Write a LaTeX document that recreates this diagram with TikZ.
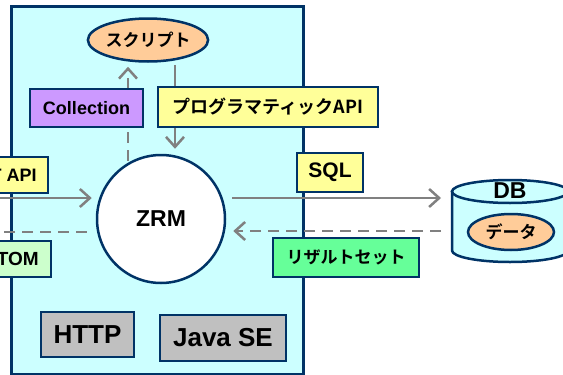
\documentclass[tikz,border=0pt]{standalone}
\usepackage{fontspec}
\setmainfont{Liberation Sans}
\newfontfamily\cjk{Noto Sans CJK JP Bold}
\newcommand\jp[1]{{\cjk\mdseries #1}}
\usetikzlibrary{arrows.meta,calc,shapes.geometric}
\definecolor{navy}{HTML}{003366}
\definecolor{cyanbg}{HTML}{CCFFFF}
\definecolor{peach}{HTML}{FFCC99}
\definecolor{lav}{HTML}{CC99FF}
\definecolor{yel}{HTML}{FFFF99}
\definecolor{ltgrn}{HTML}{CCFFCC}
\definecolor{grn}{HTML}{66FF99}
\definecolor{boxgray}{HTML}{C0C0C0}
\definecolor{arrgray}{HTML}{808080}
\tikzset{
  fs/.style={font=\bfseries\fontsize{#1}{#1}\selectfont},
  bx/.style={draw=navy, line width=2.5pt, inner xsep=8pt, inner ysep=0pt, fs=18},
  ell/.style={ellipse, draw=navy, line width=2.5pt, fill=peach, inner sep=0pt, fs=17},
  arr/.style={draw=arrgray, line width=2.5pt, -{Straight Barb[length=10pt,width=18pt]}},
  dsh/.style={arr, dash pattern=on 11pt off 7pt},
}
\begin{document}
\begin{tikzpicture}[x=1pt,y=-1pt]
\useasboundingbox (0,0) rectangle (563,375);
\clip (0,0) rectangle (563,375);
% system box
\node[draw=navy, fill=cyanbg, line width=2.5pt, minimum width=292pt, minimum height=368pt, inner sep=0pt, anchor=north west] (sys) at (10,5) {};
% DB cylinder
\draw[navy, line width=2.5pt, fill=cyanbg] (452,191.5) -- (452,250.5) arc[start angle=180, end angle=0, x radius=58, y radius=11.5] -- (568,191.5) -- cycle;
\draw[navy, line width=2.5pt, fill=cyanbg] (510,191.5) ellipse [x radius=58, y radius=11.5];
\node[fs=23] (db) at (510,191) {DB};
\coordinate (dbl) at (452,215);
\node[ell, minimum width=86pt, minimum height=36pt] (data) at (511,232) {\jp{データ}};
% main nodes
\node[ell, minimum width=106pt, minimum height=43pt] (script) at (148,40) {\jp{スクリプト}};
\node[circle, draw=navy, fill=white, line width=2.5pt, minimum size=128pt, inner sep=0pt, fs=23] (zrm) at (161,219) {ZRM};
\coordinate (L1) at (-5,198);
\coordinate (L2) at (-40,232);
% connectors
\draw[arr] ($(script.south)+(27,2)$) -- ($(zrm.north)+(14,-5)$);
\draw[dsh] ($(zrm.north)+(-33,7)$) -- ($(script.south)+(-20,4)$);
\draw[arr] (L1) -- ($(zrm.west)+(-4,-21)$);
\draw[dsh] ($(zrm.west)+(-9,13)$) -- (L2);
\draw[arr] ($(zrm.east)+(6,-21)$) -- ($(dbl)+(-11,-17)$);
\draw[dsh] ($(dbl)+(-11,16)$) -- ($(zrm.east)+(7,12)$);
% label boxes
\node[bx, fill=lav, minimum width=113pt, minimum height=38pt] (coll) at (86.5,108) {Collection};
\node[bx, fill=yel, minimum width=220pt, minimum height=40pt] (prog) at (268,107) {\jp{プログラマティックAPI}};
\node[bx, fill=yel, minimum width=66pt, minimum height=39pt, fs=21] (sql) at (330,172.5) {SQL};
\node[bx, fill=grn, minimum width=146pt, minimum height=39pt, fs=17] (rs) at (346,257.5) {\jp{リザルトセット}};
\node[bx, fill=yel, anchor=east, minimum height=36pt, inner xsep=11pt] (rest) at (49,175) {REST API};
\node[bx, fill=ltgrn, anchor=east, minimum height=36pt, inner xsep=12pt, fs=19] (atom) at (52,259) {ATOM};
\node[bx, fill=boxgray, minimum width=93pt, minimum height=45pt, fs=26] (http) at (87.5,334.5) {HTTP};
\node[bx, fill=boxgray, minimum width=126pt, minimum height=46pt, fs=26] (java) at (223,338) {Java SE};
\end{tikzpicture}
\end{document}
